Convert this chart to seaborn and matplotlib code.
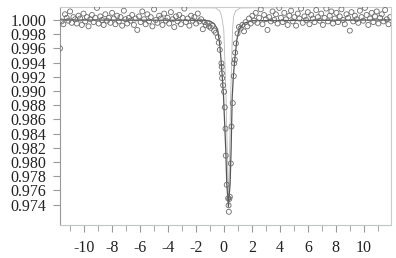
import numpy as np
import pandas as pd
import seaborn as sns
import matplotlib.pyplot as plt
from matplotlib.ticker import MultipleLocator, FormatStrFormatter

# Measured points (velocity mm/s, relative transmission)
vel_left = [-11.70, -11.58, -11.46, -11.34, -11.22, -11.10, -10.98, -10.86, -10.74, -10.62,
            -10.50, -10.38, -10.26, -10.14, -10.02, -9.90, -9.78, -9.66, -9.54, -9.42,
            -9.30, -9.18, -9.06, -8.94, -8.82, -8.70, -8.58, -8.46, -8.34, -8.22,
            -8.10, -7.98, -7.86, -7.74, -7.62, -7.50, -7.38, -7.26, -7.14, -7.02,
            -6.90, -6.78, -6.66, -6.54, -6.42, -6.30, -6.18, -6.06, -5.94, -5.82,
            -5.70, -5.58, -5.46, -5.34, -5.22, -5.10, -4.98, -4.86, -4.74, -4.62,
            -4.50, -4.38, -4.26, -4.14, -4.02, -3.90, -3.78, -3.66, -3.54, -3.42,
            -3.30, -3.18, -3.06, -2.94, -2.82, -2.70, -2.58, -2.46, -2.34, -2.22,
            -2.10, -1.98, -1.86, -1.74, -1.62, -1.50, -1.38]
trans_left = [0.9960, 0.9998, 0.9994, 1.0008, 1.0003, 0.9999, 1.0012, 0.9996, 1.0004, 1.0001,
              0.9995, 1.0006, 1.0002, 0.9993, 1.0009, 0.9998, 1.0004, 0.9991, 1.0001, 1.0007,
              0.9997, 1.0003, 1.0017, 0.9995, 1.0005, 1.0000, 0.9993, 1.0008, 0.9999, 1.0003,
              0.9996, 1.0010, 1.0002, 0.9994, 1.0006, 0.9998, 1.0004, 0.9992, 1.0013, 1.0001,
              0.9995, 1.0003, 0.9999, 1.0007, 0.9993, 1.0002, 0.9986, 1.0005, 0.9997, 1.0012,
              1.0001, 0.9994, 1.0008, 0.9998, 1.0004, 0.9991, 1.0015, 1.0000, 0.9996, 1.0006,
              1.0002, 0.9993, 1.0009, 0.9999, 1.0003, 0.9995, 1.0011, 1.0001, 0.9990, 1.0005,
              0.9998, 1.0007, 0.9994, 1.0003, 1.0016, 0.9997, 1.0002, 0.9992, 1.0006, 0.9999,
              1.0004, 0.9995, 1.0009, 0.9998, 1.0001, 0.9987, 0.9997]

vel_dip = [-1.29, -1.17, -1.05, -0.93, -0.81, -0.69, -0.57, -0.43, -0.36, -0.29,
           -0.17, -0.15, -0.14, -0.12, -0.05, 0.02, 0.07, 0.12, 0.14, 0.21,
           0.31, 0.34, 0.36, 0.39, 0.43, 0.50, 0.55, 0.64, 0.71, 0.74,
           0.79, 0.81, 0.86, 0.98, 1.08]
trans_dip = [0.9993, 0.9996, 0.9991, 0.9989, 0.9992, 0.9985, 0.9982, 0.9976, 0.9968, 0.9958,
             0.9939, 0.9934, 0.9925, 0.9918, 0.9908, 0.9899, 0.9877, 0.9847, 0.9809, 0.9768,
             0.9749, 0.9739, 0.9730, 0.9748, 0.9751, 0.9798, 0.9850, 0.9883, 0.9921, 0.9939,
             0.9944, 0.9954, 0.9967, 0.9981, 0.9990]

vel_right = [1.20, 1.32, 1.44, 1.56, 1.68, 1.80, 1.92, 2.04, 2.16, 2.28,
             2.40, 2.52, 2.64, 2.76, 2.88, 3.00, 3.12, 3.24, 3.36, 3.48,
             3.60, 3.72, 3.84, 3.96, 4.08, 4.20, 4.32, 4.44, 4.56, 4.68,
             4.80, 4.92, 5.04, 5.16, 5.28, 5.40, 5.52, 5.64, 5.76, 5.88,
             6.00, 6.12, 6.24, 6.36, 6.48, 6.60, 6.72, 6.84, 6.96, 7.08,
             7.20, 7.32, 7.44, 7.56, 7.68, 7.80, 7.92, 8.04, 8.16, 8.28,
             8.40, 8.52, 8.64, 8.76, 8.88, 9.00, 9.12, 9.24, 9.36, 9.48,
             9.60, 9.72, 9.84, 9.96, 10.08, 10.20, 10.32, 10.44, 10.56, 10.68,
             10.80, 10.92, 11.04, 11.16, 11.28, 11.40, 11.52, 11.64, 11.76, 11.88]
trans_right = [0.9988, 0.9993, 0.9984, 0.9997, 0.9991, 1.0002, 0.9995, 1.0006, 0.9999, 1.0010,
               0.9996, 1.0003, 1.0015, 0.9994, 1.0007, 1.0001, 0.9986, 1.0004, 0.9998, 1.0012,
               1.0000, 1.0008, 0.9995, 1.0017, 1.0003, 0.9997, 1.0010, 1.0001, 0.9993, 1.0006,
               1.0013, 0.9998, 1.0004, 0.9992, 1.0009, 1.0002, 1.0016, 0.9996, 1.0005, 1.0000,
               1.0011, 0.9994, 1.0007, 1.0002, 0.9997, 1.0014, 1.0004, 0.9999, 1.0009, 0.9993,
               1.0003, 1.0016, 0.9998, 1.0006, 1.0012, 0.9995, 1.0002, 1.0010, 0.9997, 1.0005,
               1.0015, 1.0000, 0.9994, 1.0008, 1.0003, 0.9985, 1.0011, 0.9998, 1.0006, 1.0001,
               0.9996, 1.0013, 1.0004, 0.9999, 1.0017, 1.0007, 0.9993, 1.0002, 1.0010, 0.9997,
               1.0005, 1.0012, 0.9995, 1.0003, 1.0008, 0.9998, 1.0014, 1.0001, 0.9994, 1.0004]

# Fitted envelope
fit_vel = [-11.7, -1.5, -1.0, -0.7, -0.45, -0.3, -0.2, -0.11, -0.02, 0.14,
           0.21, 0.33, 0.45, 0.52, 0.6, 0.68, 0.78, 0.93, 1.1, 1.4, 2.0, 11.9]
fit_trans = [1.0000, 0.99995, 0.99985, 0.9995, 0.9987, 0.9967, 0.9944, 0.9920, 0.9892, 0.9817,
             0.9770, 0.9737, 0.9770, 0.9817, 0.9892, 0.9920, 0.9944, 0.9972, 0.9987, 0.9995,
             0.9999, 1.0000]

# Sub-spectrum (light line, offset baseline)
sub_vel = [-11.7, -0.6, -0.3, -0.15, 0.0, 0.15, 0.33, 0.5, 0.62, 0.7, 0.85, 1.2, 11.9]
sub_trans = [1.0018, 1.0017, 1.0013, 1.0005, 0.9985, 0.9900, 0.9740, 0.9900, 0.9985, 1.0005,
             1.0013, 1.0017, 1.0018]

points = pd.DataFrame({
    'vel': vel_left + vel_dip + vel_right,
    'trans': trans_left + trans_dip + trans_right,
})

sns.set_style('ticks')
plt.rcParams['font.family'] = ['Liberation Serif', 'DejaVu Serif']
plt.rcParams['axes.unicode_minus'] = False

fig = plt.figure(figsize=(3.96, 2.58), dpi=100)
ax = fig.add_axes([0.1515, 0.128, 0.8355, 0.845])

sns.lineplot(x=sub_vel, y=sub_trans, color='#b8b8b8', lw=0.6, ax=ax)
sns.lineplot(x=fit_vel, y=fit_trans, color='#555555', lw=0.9, ax=ax)
sns.scatterplot(data=points, x='vel', y='trans', marker='o', s=13,
                facecolor='none', edgecolor='#6a6a6a', linewidth=0.6, ax=ax, zorder=3)

ax.set_xlim(-11.7, 11.93)
ax.set_ylim(0.97114, 1.00183)
ax.xaxis.set_major_locator(MultipleLocator(2))
ax.xaxis.set_minor_locator(MultipleLocator(1))
ax.yaxis.set_major_formatter(FormatStrFormatter('%.3f'))
ax.set_yticks(np.arange(0.974, 1.0005, 0.002))

ax.tick_params(axis='both', which='both', direction='out', colors='#999999',
               labelcolor='#222222', labelsize=11.5)
ax.tick_params(axis='x', which='major', length=5, pad=6)
ax.tick_params(axis='x', which='minor', length=4)
ax.tick_params(axis='y', which='major', length=5, pad=5)

for side in ['top', 'right']:
    ax.spines[side].set_color('#cccccc')
    ax.spines[side].set_linewidth(0.8)
ax.spines['left'].set_color('#999999')
ax.spines['bottom'].set_color('#bcc8c8')
ax.spines['left'].set_linewidth(0.8)
ax.spines['bottom'].set_linewidth(0.8)

ax.set_xlabel('')
ax.set_ylabel('')

fig.savefig('out.png', dpi=100)
